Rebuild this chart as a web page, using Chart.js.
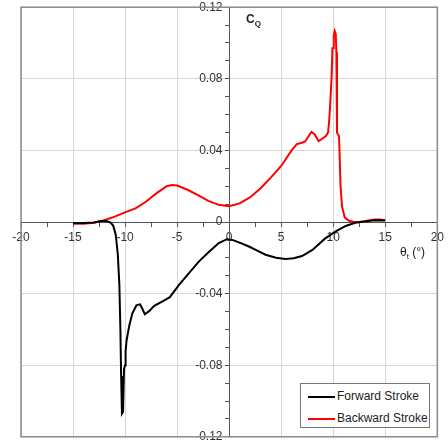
<!DOCTYPE html>
<html>
<head>
<meta charset="utf-8">
<script src="https://cdn.jsdelivr.net/npm/chart.js@4.4.1/dist/chart.umd.min.js"></script>
<style>
body { margin: 0; background: #fff; }
#wrap { position: relative; width: 448px; height: 444px; font-family: 'Liberation Sans', Arial, sans-serif; color: #222; }
#cq { position: absolute; left: 246px; top: 12px; font-size: 12px; font-weight: bold; }
#cq sub { font-size: 8px; font-weight: bold; }
#xlab { position: absolute; left: 400px; top: 245px; font-size: 12px; }
#xlab sub { font-size: 8px; }
#legend { position: absolute; left: 300px; top: 383px; width: 128px; height: 43px; border: 1px solid #777; background: #fff; font-size: 12px; }
.row { position: absolute; left: 7px; height: 14px; line-height: 14px; }
.row span.ln { display: inline-block; width: 27px; height: 2px; vertical-align: middle; margin-right: 2px; }
</style>
</head>
<body>
<div id="wrap">
<canvas id="myChart" width="448" height="444"></canvas>
<div id="cq">C<sub>Q</sub></div>
<div id="xlab">θ<sub>t</sub> (°)</div>
<div id="legend">
  <div class="row" style="top:5px"><span class="ln" style="background:#000"></span>Forward Stroke</div>
  <div class="row" style="top:27px"><span class="ln" style="background:#ff0000"></span>Backward Stroke</div>
</div>
</div>
<script>
// forward stroke (black)
let fwdTheta = [-15, -14, -13, -12.3, -11.8, -11.4, -11.15, -10.9, -10.7, -10.55, -10.45, -10.38, -10.3, -10.2, -10.1, -10.0, -9.95, -9.85, -9.6, -9.3, -8.9, -8.55, -8.3, -8.1, -7.7, -7.2, -6.4, -5.7, -4.8, -3.8, -2.9, -1.9, -1, -0.2, 0.3, 1, 1.9, 2.7, 3.5, 4.5, 5.4, 6.2, 7, 8, 9.2, 10.2, 11.2, 12.1, 13, 14, 15]
let fwdCq = [-0.0007, -0.0006, -0.0003, 0.0006, 0.0006, -0.0003, -0.002, -0.007, -0.018, -0.035, -0.06, -0.086, -0.107, -0.106, -0.082, -0.08, -0.072, -0.066, -0.058, -0.051, -0.0465, -0.046, -0.049, -0.0515, -0.0498, -0.0468, -0.0443, -0.042, -0.035, -0.0281, -0.022, -0.0165, -0.0118, -0.0096, -0.0100, -0.0115, -0.0137, -0.016, -0.0183, -0.0200, -0.0207, -0.0203, -0.0190, -0.0156, -0.0093, -0.0054, -0.0022, -0.0004, 0.0003, 0.0010, 0.0008]

// backward stroke (red)
let bwdTheta = [-15, -14, -13, -12, -11, -10, -9, -8, -7, -6, -5.5, -5, -4, -3, -2, -1, 0, 1, 2, 3, 4, 5, 6, 6.5, 7, 7.3, 7.9, 8.2, 8.6, 9.0, 9.3, 9.5, 9.6, 9.72, 9.85, 9.92, 9.98, 10.05, 10.14, 10.24, 10.3, 10.36, 10.45, 10.55, 10.6, 10.7, 10.85, 11.1, 11.5, 12, 12.5, 13, 13.5, 14, 14.5, 15]
let bwdCq = [-0.0008, -0.001, -0.0004, 0.001, 0.003, 0.0054, 0.0076, 0.0113, 0.016, 0.0200, 0.0207, 0.0204, 0.018, 0.015, 0.0118, 0.0096, 0.0088, 0.0104, 0.0137, 0.0187, 0.0248, 0.0313, 0.040, 0.0435, 0.0443, 0.045, 0.0503, 0.049, 0.0452, 0.0468, 0.048, 0.050, 0.056, 0.067, 0.082, 0.097, 0.097, 0.104, 0.1067, 0.105, 0.095, 0.05, 0.049, 0.048, 0.04, 0.02, 0.0085, 0.0026, 0.0007, 0, 0, 0.0004, 0.001, 0.0014, 0.0014, 0.001]

function toPoints(xs, ys) {
    return xs.map(function(x, i) { return {x: x, y: ys[i]} })
}

Chart.defaults.font.family = "'Liberation Sans', Arial, sans-serif"
Chart.defaults.font.size = 12
Chart.defaults.color = '#333'

// gray frame round the plot area
let frame = {
    id: 'frame',
    beforeDatasetsDraw(chart) {
        let a = chart.chartArea
        let c = chart.ctx
        c.save()
        c.strokeStyle = '#8a8a8a'
        c.lineWidth = 1.5
        c.strokeRect(a.left, a.top, a.right - a.left, a.bottom - a.top)
        c.restore()
    }
}

let ctx = document.getElementById('myChart').getContext('2d')
let myChart = new Chart(ctx, {
    type: 'scatter',
    data: {
        datasets: [
            {
                label: 'Forward Stroke',
                data: toPoints(fwdTheta, fwdCq),
                showLine: true,
                borderColor: '#000',
                borderWidth: 2,
                pointRadius: 0,
                tension: 0,
            },
            {
                label: 'Backward Stroke',
                data: toPoints(bwdTheta, bwdCq),
                showLine: true,
                borderColor: '#ff0000',
                borderWidth: 2,
                pointRadius: 0,
                tension: 0,
            },
        ],
    },
    options: {
        responsive: false,
        animation: false,
        devicePixelRatio: 1,
        layout: { padding: { left: 21, right: 8, top: 6, bottom: 6 } },
        plugins: { legend: { display: false }, tooltip: { enabled: false } },
        scales: {
            x: {
                type: 'linear',
                min: -20,
                max: 20,
                position: { y: 0 },
                border: { color: '#555', width: 1 },
                grid: {
                    color: function(c) {
                        let v = c.tick.value
                        return (v % 5 === 0 && v !== 0) ? '#d6d6d6' : 'rgba(0,0,0,0)'
                    },
                    tickColor: '#555',
                    tickLength: 4,
                },
                ticks: {
                    stepSize: 2.5,
                    autoSkip: false,
                    maxRotation: 0,
                    padding: 4,
                    callback: function(v) { return v % 5 === 0 ? String(v) : '' },
                },
            },
            y: {
                type: 'linear',
                min: -0.12,
                max: 0.12,
                position: { x: 0 },
                border: { color: '#555', width: 1 },
                grid: {
                    color: function(c) {
                        let k = Math.round(c.tick.value * 100)
                        return (k % 4 === 0 && k !== 0) ? '#d6d6d6' : 'rgba(0,0,0,0)'
                    },
                    tickColor: '#555',
                    tickLength: 4,
                },
                ticks: {
                    stepSize: 0.01,
                    autoSkip: false,
                    padding: 0,
                    callback: function(v) {
                        let k = Math.round(v * 100)
                        if (k % 4 !== 0) return ''
                        // trailing spaces keep the label clear of the axis
                        return (k === 0 ? '0' : (k / 100).toFixed(2)) + '  '
                    },
                },
            },
        },
    },
    plugins: [frame],
})
</script>
</body>
</html>
